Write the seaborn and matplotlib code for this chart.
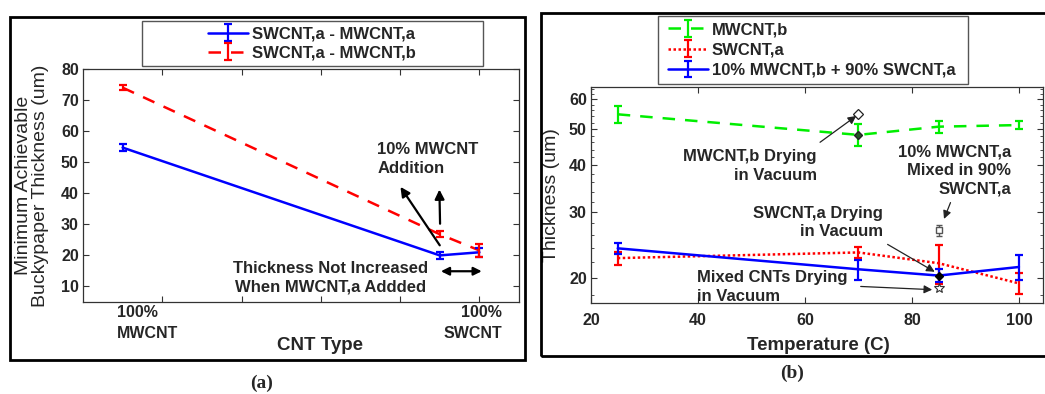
import numpy as np
import pandas as pd
import seaborn as sns
import matplotlib
matplotlib.use("Agg")
import matplotlib.pyplot as plt
from matplotlib.patches import Rectangle
from matplotlib.ticker import FixedLocator, NullFormatter, FixedFormatter
from matplotlib.legend_handler import HandlerTuple

# ---------------- data ----------------
# panel (a)
a_x = [0.1, 0.9, 1.0]
a_labels_left = "100%\nMWCNT"
a_labels_right = "100%\nSWCNT"
a_blue_y = [54.7, 20.0, 21.0]
a_blue_err = [1.2, 1.0, 1.5]
a_red_y = [74.0, 26.8, 21.6]
a_red_err = [0.7, 1.0, 2.0]
a_series = ["SWCNT,a - MWCNT,a", "SWCNT,a - MWCNT,b"]

# panel (b)
temps = [25, 70, 85, 100]
b_green_y = [54.7, 48.2, 50.7, 51.2]
b_green_err = [2.7, 3.2, 1.9, 1.2]
b_red_y = [22.6, 23.4, 21.9, 19.35]
b_red_err = [0.9, 0.8, 2.6, 1.25]
b_blue_y = [24.0, 21.1, 20.3, 21.4]
b_blue_err = [0.85, 1.3, 0.8, 1.65]
b_series = ["MWCNT,b", "SWCNT,a", "10% MWCNT,b + 90% SWCNT,a"]
vac_mwcnt_b = (70, 54.7)
vac_swcnt_a = (85, 20.3)
mix_a_point = (85, 26.8)
mix_a_err = 0.85
vac_mixed = (85, 18.75)

# ---------------- style ----------------
sns.set_theme(style="ticks")
plt.rcParams["font.family"] = ["Liberation Sans", "DejaVu Sans"]
plt.rcParams["xtick.direction"] = "in"
plt.rcParams["ytick.direction"] = "in"

W, H = 1045, 394
fig = plt.figure(figsize=(W / 100, H / 100), dpi=100)


def fx(px):
    return px / W


def fy(py):
    return 1 - py / H


BLUE = "#0000ff"
RED = "#ff0000"
GREEN = "#00ee00"

# outer frames
fig.add_artist(Rectangle((fx(10), fy(360)), fx(515), 343 / H, fill=False,
                         lw=2, ec="black", transform=fig.transFigure))
fig.add_artist(Rectangle((fx(541), fy(356)), fx(520), 343 / H, fill=False,
                         lw=2, ec="black", transform=fig.transFigure))

# ================= panel (a) =================
axa = fig.add_axes([fx(83), fy(302), fx(519 - 83), (302 - 69) / H])
dfa = pd.DataFrame({"x": a_x * 2, "y": a_blue_y + a_red_y,
                    "s": [a_series[0]] * 3 + [a_series[1]] * 3})
sns.lineplot(data=dfa[dfa.s == a_series[0]], x="x", y="y", ax=axa,
             color=BLUE, lw=1.8, legend=False)
line_a1 = axa.lines[-1]
sns.lineplot(data=dfa[dfa.s == a_series[1]], x="x", y="y", ax=axa,
             color=RED, lw=1.8, legend=False)
line_a2 = axa.lines[-1]
line_a2.set_dashes([5, 4])
eb_a1 = axa.errorbar(a_x, a_blue_y, yerr=a_blue_err, fmt="none", ecolor=BLUE,
                     elinewidth=1.6, capsize=3, capthick=1.6)
eb_a2 = axa.errorbar(a_x, a_red_y, yerr=a_red_err, fmt="none", ecolor=RED,
                     elinewidth=1.6, capsize=3, capthick=1.6)
axa.set_xlim(0, 1.1)
axa.set_ylim(5, 80)
axa.set_xticks([0.2, 0.4, 0.6, 0.8, 1.0])
axa.set_xticklabels([])
axa.set_yticks(range(10, 81, 10))
axa.tick_params(axis="both", which="both", top=True, right=True, length=4,
                width=0.8, color="#333333", labelsize=11.5, pad=3)
for lab in axa.get_yticklabels():
    lab.set_fontweight("bold")
for sp in axa.spines.values():
    sp.set_linewidth(0.9)
    sp.set_color("#333333")
axa.set_xlabel("CNT Type", fontsize=13.5, fontweight="bold")
axa.xaxis.label.set_va("center")
axa.xaxis.set_label_coords((320 - 83) / 436, (302 - 345) / 233)
axa.set_ylabel("Minimum Achievable\nBuckypaper Thickness (um)", fontsize=14,
               linespacing=1.05)
axa.yaxis.label.set_va("center")
axa.yaxis.set_label_coords((32 - 83) / 436, 0.5)

axa.text(0.086, -1.7, a_labels_left, ha="left", va="center", fontsize=11.5,
         fontweight="bold", linespacing=1.45, clip_on=False)
axa.text(1.058, -1.7, a_labels_right, ha="right", va="center", fontsize=11.5,
         fontweight="bold", linespacing=1.45, multialignment="right", clip_on=False)

axa.text(0.742, 51.1, "10% MWCNT\nAddition", ha="left", va="center",
         fontsize=12, fontweight="bold", linespacing=1.3)
ak = dict(arrowstyle="-|>", color="black", lw=1.6, mutation_scale=14)
axa.annotate("", xy=(0.797, 42.8), xytext=(0.904, 22.5), arrowprops=ak)
axa.annotate("", xy=(0.899, 42.1), xytext=(0.901, 29.3), arrowprops=ak)
axa.text(0.625, 12.9, "Thickness Not Increased\nWhen MWCNT,a Addded",
         ha="center", va="center", fontsize=12, fontweight="bold",
         linespacing=1.3)
axa.annotate("", xy=(1.013, 14.9), xytext=(0.896, 14.9),
             arrowprops=dict(arrowstyle="<|-|>", color="black", lw=1.6,
                             mutation_scale=12))

# legend (a)
fig.add_artist(Rectangle((fx(142), fy(66)), fx(483 - 142), 45 / H, fill=False,
                         lw=1, ec="#555555", transform=fig.transFigure))
fig.legend([(line_a1, eb_a1), (line_a2, eb_a2)], a_series,
           handler_map={tuple: HandlerTuple(ndivide=1)},
           loc="center", bbox_to_anchor=(fx(312), fy(43.5)), frameon=False,
           prop={"weight": "bold", "size": 12}, handlelength=2.4,
           handletextpad=0.2, labelspacing=0.25, borderpad=0)

# ================= panel (b) =================
axb = fig.add_axes([fx(591), fy(303), fx(1043 - 591), (303 - 87) / H])
dfb = pd.DataFrame({"T": temps * 3,
                    "y": b_green_y + b_red_y + b_blue_y,
                    "s": [b_series[0]] * 4 + [b_series[1]] * 4 + [b_series[2]] * 4})
sns.lineplot(data=dfb[dfb.s == b_series[0]], x="T", y="y", ax=axb,
             color=GREEN, lw=1.8, legend=False)
line_b1 = axb.lines[-1]
line_b1.set_dashes([5, 4])
sns.lineplot(data=dfb[dfb.s == b_series[1]], x="T", y="y", ax=axb,
             color=RED, lw=1.8, legend=False)
line_b2 = axb.lines[-1]
line_b2.set_dashes([1, 1])
sns.lineplot(data=dfb[dfb.s == b_series[2]], x="T", y="y", ax=axb,
             color=BLUE, lw=1.8, legend=False)
line_b3 = axb.lines[-1]
eb_b1 = axb.errorbar(temps, b_green_y, yerr=b_green_err, fmt="none", ecolor=GREEN,
                     elinewidth=1.6, capsize=3, capthick=1.6)
eb_b2 = axb.errorbar(temps, b_red_y, yerr=b_red_err, fmt="none", ecolor=RED,
                     elinewidth=1.6, capsize=3, capthick=1.6)
eb_b3 = axb.errorbar(temps, b_blue_y, yerr=b_blue_err, fmt="none", ecolor=BLUE,
                     elinewidth=1.6, capsize=3, capthick=1.6)

# special markers
axb.plot([vac_mwcnt_b[0]], [vac_mwcnt_b[1]], marker="D", ms=5, mfc="white",
         mec="#222222", mew=0.9, ls="none", zorder=5)
axb.plot([temps[1]], [b_green_y[1]], marker="D", ms=4, mfc="#225522",
         mec="#222222", ls="none", zorder=5)
axb.plot([vac_swcnt_a[0]], [vac_swcnt_a[1]], marker="D", ms=4, mfc="black",
         mec="black", ls="none", zorder=5)
axb.errorbar([mix_a_point[0]], [mix_a_point[1]], yerr=[mix_a_err], fmt="s",
             ms=5, mfc="white", mec="#555555", ecolor="#555555", elinewidth=1,
             capsize=2.5, zorder=5)
axb.plot([vac_mixed[0]], [vac_mixed[1]], marker="*", ms=7, mfc="white",
         mec="#333333", mew=0.8, ls="none", zorder=5)

axb.set_yscale("log")
axb.set_xlim(20, 104.5)
axb.set_ylim(17.15, 64.7)
axb.set_xticks([20, 40, 60, 80, 100])
axb.yaxis.set_major_locator(FixedLocator([20, 30, 40, 50, 60]))
axb.yaxis.set_major_formatter(FixedFormatter(["20", "30", "40", "50", "60"]))
axb.yaxis.set_minor_locator(FixedLocator([v for v in np.arange(18, 65, 2.0)
                                          if v not in (20, 30, 40, 50, 60)]))
axb.yaxis.set_minor_formatter(NullFormatter())
axb.tick_params(axis="both", which="major", top=True, right=True, length=4,
                width=0.8, color="#333333", labelsize=11.5, pad=3)
axb.tick_params(axis="y", which="minor", left=True, right=True, length=2,
                width=0.6, color="#333333")
axb.tick_params(axis="x", which="major", pad=7)
for lab in axb.get_yticklabels() + axb.get_xticklabels():
    lab.set_fontweight("bold")
for sp in axb.spines.values():
    sp.set_linewidth(0.9)
    sp.set_color("#333333")
axb.set_xlabel("Temperature (C)", fontsize=13.5, fontweight="bold")
axb.xaxis.label.set_va("center")
axb.xaxis.set_label_coords((818 - 591) / 452, (303 - 345) / 216)
axb.set_ylabel("Thickness (um)", fontsize=14)
axb.yaxis.label.set_va("center")
axb.yaxis.set_label_coords((552 - 591) / 452, 0.5)

tk = dict(fontsize=12, fontweight="bold", linespacing=1.3, va="center")
ab = dict(arrowstyle="-|>", color="#222222", lw=0.9, mutation_scale=12)
axb.text(62.2, 39.8, "MWCNT,b Drying\nin Vacuum", ha="right",
         multialignment="right", **tk)
axb.annotate("", xy=vac_mwcnt_b, xytext=(62.4, 45.6), arrowprops=ab)
axb.text(98.6, 38.8, "10% MWCNT,a\nMixed in 90%\nSWCNT,a", ha="right",
         multialignment="right", **tk)
axb.annotate("", xy=(85.8, 28.3), xytext=(87.4, 32.3), arrowprops=ab)
axb.text(74.5, 28.1, "SWCNT,a Drying\nin Vacuum", ha="right",
         multialignment="right", **tk)
axb.annotate("", xy=(84.7, 20.6), xytext=(75.0, 24.8), arrowprops=ab)
axb.text(39.8, 18.95, "Mixed CNTs Drying\nin Vacuum", ha="left",
         multialignment="left", clip_on=False, **tk)
axb.annotate("", xy=(84.3, 18.6), xytext=(69.9, 19.0), arrowprops=ab)

# legend (b)
fig.add_artist(Rectangle((fx(658), fy(84)), fx(968 - 658), 68 / H, fill=False,
                         lw=1, ec="#555555", transform=fig.transFigure))
fig.legend([(line_b1, eb_b1), (line_b2, eb_b2), (line_b3, eb_b3)], b_series,
           handler_map={tuple: HandlerTuple(ndivide=1)},
           loc="center left", bbox_to_anchor=(fx(660), fy(50)), frameon=False,
           prop={"weight": "bold", "size": 12}, handlelength=2.4,
           handletextpad=0.2, labelspacing=0.32, borderpad=0)

# captions
fig.text(fx(262), fy(383), "(a)", ha="center", va="center", fontsize=14,
         family=["Liberation Serif", "DejaVu Serif"], fontweight="bold")
fig.text(fx(792), fy(373), "(b)", ha="center", va="center", fontsize=14,
         family=["Liberation Serif", "DejaVu Serif"], fontweight="bold")

fig.savefig("out.png", dpi=100)
